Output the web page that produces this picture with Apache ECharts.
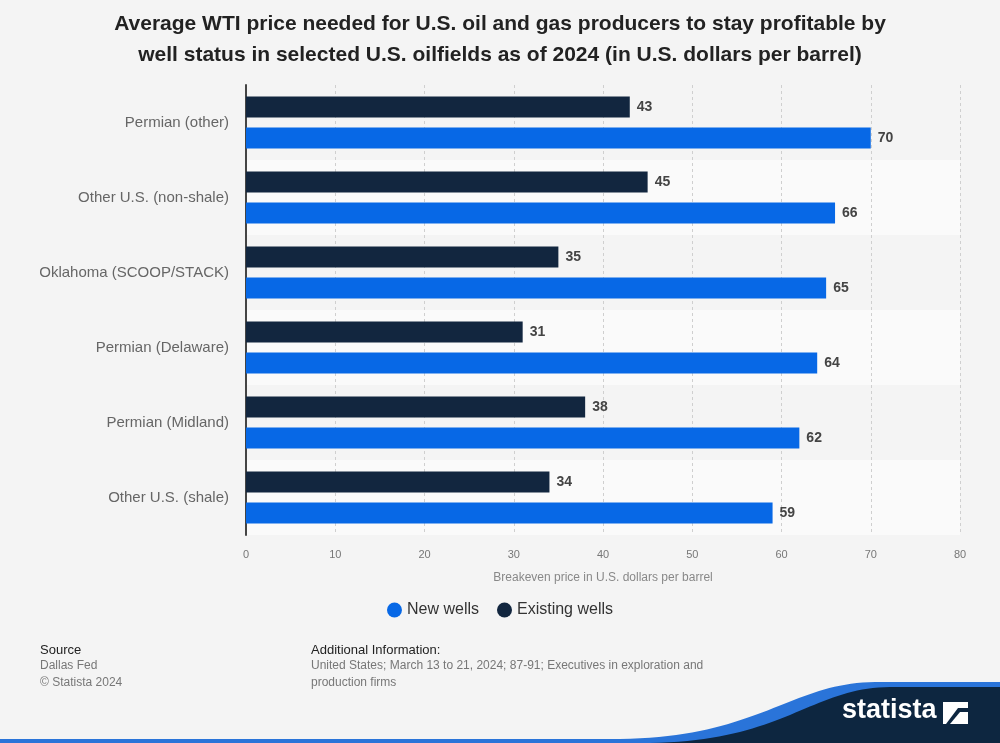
<!DOCTYPE html>
<html>
<head>
<meta charset="utf-8">
<script src="https://cdn.jsdelivr.net/npm/echarts@6/dist/echarts.min.js"></script>
<style>
html,body{margin:0;padding:0;background:#f4f4f4;}
#chart{width:1000px;height:743px;}
</style>
</head>
<body>
<div id="chart"></div>
<script>
const categories = ['Permian (other)', 'Other U.S. (non-shale)', 'Oklahoma (SCOOP/STACK)', 'Permian (Delaware)', 'Permian (Midland)', 'Other U.S. (shale)'];
const newWells = [70, 66, 65, 64, 62, 59];
const existingWells = [43, 45, 35, 31, 38, 34];
const xTicks = { min: 0, max: 80, interval: 10 };

const FONT = '"Liberation Sans", Arial, sans-serif';
const chart = echarts.init(document.getElementById('chart'), null, { renderer: 'canvas' });

const labelStyle = { show: true, position: 'right', distance: 7, color: '#444', fontWeight: 'bold', fontSize: 14, fontFamily: FONT };

// decorative footer swoosh (logo background), sampled cubic bezier
function bez(p0, p1, p2, p3, n) {
  const pts = [];
  for (let i = 0; i <= n; i++) {
    const t = i / n, u = 1 - t;
    pts.push([
      u*u*u*p0[0] + 3*u*u*t*p1[0] + 3*u*t*t*p2[0] + t*t*t*p3[0],
      u*u*u*p0[1] + 3*u*u*t*p1[1] + 3*u*t*t*p2[1] + t*t*t*p3[1]
    ]);
  }
  return pts;
}
const bluePts = [[0, 739]].concat(bez([620, 739], [760, 737], [790, 683], [875, 682], 40)).concat([[1000, 682], [1000, 743], [0, 743]]);
const darkPts = bez([650, 743], [785, 741], [810, 688], [890, 687], 40).concat([[1000, 687], [1000, 743]]);

chart.setOption({
  backgroundColor: '#f4f4f4',
  animation: false,
  title: {
    text: 'Average WTI price needed for U.S. oil and gas producers to stay profitable by\nwell status in selected U.S. oilfields as of 2024 (in U.S. dollars per barrel)',
    left: 'center',
    top: 4,
    textStyle: { fontFamily: FONT, fontSize: 21, fontWeight: 'bold', color: '#222', lineHeight: 31 }
  },
  legend: {
    data: ['New wells', 'Existing wells'],
    top: 597,
    left: 'center',
    icon: 'circle',
    itemWidth: 15,
    itemHeight: 15,
    itemGap: 18,
    textStyle: { fontFamily: FONT, fontSize: 16, color: '#333' }
  },
  grid: { left: 246, right: 40, top: 85, bottom: 208 },
  xAxis: {
    type: 'value',
    min: xTicks.min, max: xTicks.max, interval: xTicks.interval,
    axisLine: { show: false },
    axisTick: { show: false },
    axisLabel: { color: '#777', fontSize: 11, fontFamily: FONT, margin: 14 },
    splitLine: { show: true, lineStyle: { color: '#cfcfcf', type: [3, 3], width: 1 } },
    name: 'Breakeven price in U.S. dollars per barrel',
    nameLocation: 'middle',
    nameGap: 37,
    nameTextStyle: { color: '#888', fontSize: 12, fontFamily: FONT }
  },
  yAxis: {
    type: 'category',
    data: categories,
    inverse: true,
    axisLine: { show: true, lineStyle: { color: '#444', width: 2 } },
    axisTick: { show: false },
    axisLabel: { color: '#666', fontSize: 15, fontFamily: FONT, margin: 17 },
    splitLine: { show: false },
    splitArea: { show: true, areaStyle: { color: ['#f4f4f4', '#fafafa'] } }
  },
  series: [
    {
      name: 'Existing wells',
      type: 'bar',
      data: existingWells,
      barWidth: 21,
      barGap: '48%',
      itemStyle: { color: '#12263f' },
      label: labelStyle
    },
    {
      name: 'New wells',
      type: 'bar',
      data: newWells,
      barWidth: 21,
      barGap: '48%',
      itemStyle: { color: '#0768e6' },
      label: labelStyle
    }
  ],
  graphic: [
    { type: 'text', left: 40, top: 644, style: { text: 'Source', font: '13px ' + FONT, fill: '#222' } },
    { type: 'text', left: 40, top: 660, style: { text: 'Dallas Fed', font: '12px ' + FONT, fill: '#777' } },
    { type: 'text', left: 40, top: 677, style: { text: '\u00a9 Statista 2024', font: '12px ' + FONT, fill: '#777' } },
    { type: 'text', left: 311, top: 644, style: { text: 'Additional Information:', font: '13px ' + FONT, fill: '#222' } },
    { type: 'text', left: 311, top: 660, style: { text: 'United States; March 13 to 21, 2024; 87-91; Executives in exploration and', font: '12px ' + FONT, fill: '#777' } },
    { type: 'text', left: 311, top: 677, style: { text: 'production firms', font: '12px ' + FONT, fill: '#777' } },
    { type: 'polygon', shape: { points: bluePts }, style: { fill: '#2a74d9' } },
    { type: 'polygon', shape: { points: darkPts }, style: { fill: '#0d2640' } },
    { type: 'text', left: 842, top: 697, style: { text: 'statista', font: 'bold 27px ' + FONT, fill: '#ffffff' } },
    { type: 'polygon', shape: { points: [[943, 702], [968, 702], [968, 708], [958, 708], [946, 724], [943, 724]] }, style: { fill: '#ffffff' } },
    { type: 'polygon', shape: { points: [[968, 712], [968, 724], [950, 724], [960, 712]] }, style: { fill: '#ffffff' } }
  ]
});
</script>
</body>
</html>
